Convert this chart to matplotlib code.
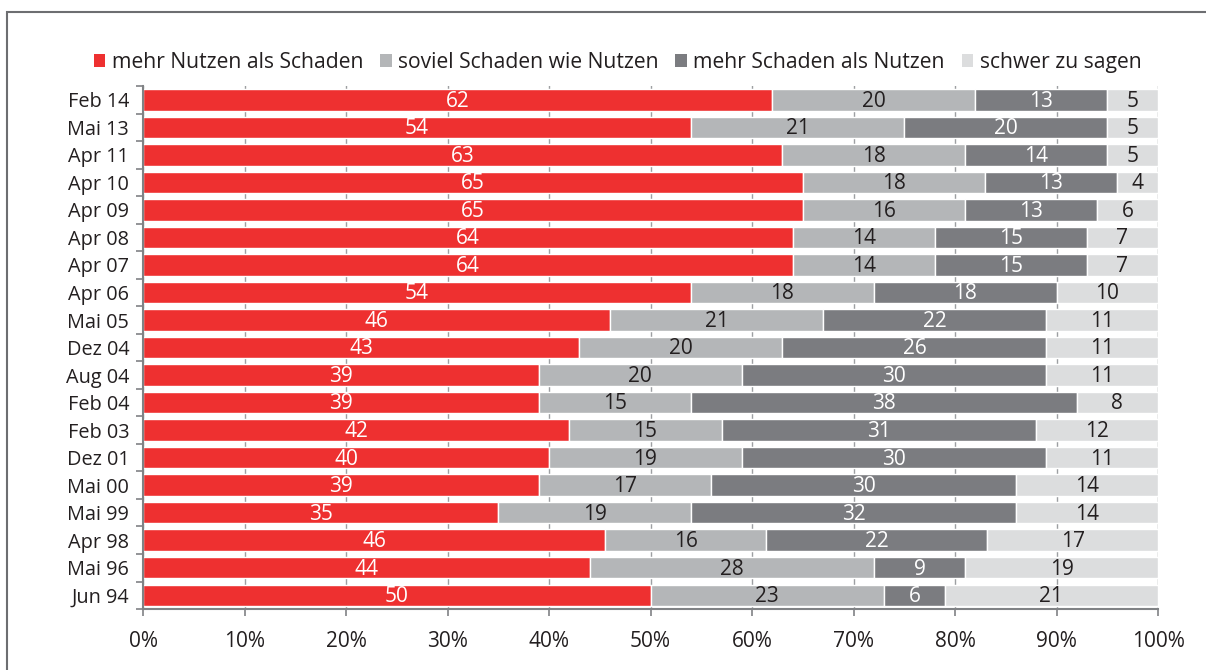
import numpy as np
import matplotlib
matplotlib.use("Agg")
import matplotlib.pyplot as plt
from matplotlib.patches import Patch, Rectangle

# Umfragetermine (von unten nach oben)
dates = ["Jun 94", "Mai 96", "Apr 98", "Mai 99", "Mai 00", "Dez 01", "Feb 03",
         "Feb 04", "Aug 04", "Dez 04", "Mai 05", "Apr 06", "Apr 07", "Apr 08",
         "Apr 09", "Apr 10", "Apr 11", "Mai 13", "Feb 14"]

mehr_nutzen = [50, 44, 46, 35, 39, 40, 42, 39, 39, 43, 46, 54, 64, 64, 65, 65, 63, 54, 62]
soviel = [23, 28, 16, 19, 17, 19, 15, 15, 20, 20, 21, 18, 14, 14, 16, 18, 18, 21, 20]
mehr_schaden = [6, 9, 22, 32, 30, 30, 31, 38, 30, 26, 22, 18, 15, 15, 13, 13, 14, 20, 13]
schwer = [21, 19, 17, 14, 14, 11, 12, 8, 11, 11, 11, 10, 7, 7, 6, 4, 5, 5, 5]

series_names = ["mehr Nutzen als Schaden", "soviel Schaden wie Nutzen",
                "mehr Schaden als Nutzen", "schwer zu sagen"]
colors = ["#ee3030", "#b4b6b8", "#7b7c80", "#dcddde"]
text_colors = ["white", "#231f20", "white", "#231f20"]

plt.rcParams['font.family'] = ['Open Sans', 'DejaVu Sans']

data = np.array([mehr_nutzen, soviel, mehr_schaden, schwer], dtype=float)
totals = data.sum(axis=0)
shares = data / totals * 100

fig = plt.figure(figsize=(12.06, 6.70), dpi=100)
ax = fig.add_axes([0.1186, 0.0910, 0.8416, 0.7806])

# Rahmen um die Grafik
fig.patches.append(Rectangle((7 / 1206, -0.05), 1.2, 1 - 12 / 670 + 0.05,
                             transform=fig.transFigure, fill=False,
                             edgecolor="#6d6e71", linewidth=1.5, zorder=0))

y = np.arange(len(dates))
left = np.zeros(len(dates))
for i in range(4):
    ax.barh(y, shares[i], left=left, height=0.78, color=colors[i],
            edgecolor="white", linewidth=1, zorder=2)
    for k in range(len(dates)):
        ax.text(left[k] + shares[i][k] / 2, y[k] - 0.05, str(int(data[i][k])),
                ha="center", va="center", fontsize=15, color=text_colors[i], zorder=3)
    left += shares[i]

ax.set_xlim(0, 100)
ax.set_ylim(-0.5, len(dates) - 0.5)
ax.set_xticks(np.arange(0, 101, 10))
ax.set_xticklabels([f"{v}%" for v in range(0, 101, 10)], fontsize=15, color="#231f20")
ax.set_yticks(y)
ax.set_yticklabels(dates, fontsize=14.3, color="#231f20")
ax.set_yticks(np.arange(-0.5, len(dates), 1), minor=True)
ax.tick_params(axis="y", which="major", length=0, pad=10)
ax.tick_params(axis="y", which="minor", length=5, width=1.2, color="#808285")
ax.tick_params(axis="x", length=5, width=1.2, color="#808285", pad=11)
ax.xaxis.grid(True, color="#9d9fa2", linewidth=1, zorder=0)
ax.set_axisbelow(True)

for side in ["top", "right"]:
    ax.spines[side].set_visible(False)
for side in ["left", "bottom"]:
    ax.spines[side].set_color("#808285")
    ax.spines[side].set_linewidth(1.5)

handles = [Patch(facecolor=c, edgecolor="none") for c in colors]
fig.legend(handles, series_names, loc="center", bbox_to_anchor=(0.512, 0.907),
           ncol=4, frameon=False, fontsize=15.2, handlelength=0.55, handleheight=0.55,
           handletextpad=0.3, columnspacing=0.8, labelcolor="#231f20")

fig.savefig("out.png", dpi=100)
